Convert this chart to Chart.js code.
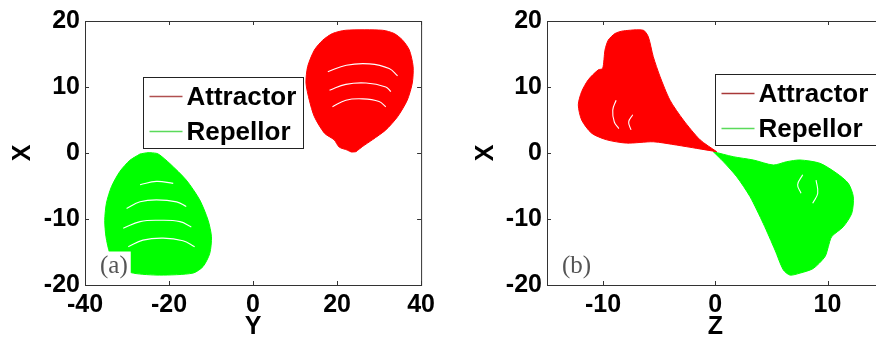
<!DOCTYPE html>
<html>
<head>
<meta charset="utf-8">
<script src="https://cdn.jsdelivr.net/npm/chart.js@4"></script>
<style>
html,body{margin:0;padding:0;background:#fff;overflow:hidden;width:876px;height:339px}
canvas{position:absolute;top:0}
#ca{left:0}
#cb{left:436px}
</style>
</head>
<body>
<canvas id="ca" width="440" height="339"></canvas>
<canvas id="cb" width="460" height="339"></canvas>
<script>
// tick values
const xTicks=[-20,-10,0,10,20];
const yTicks=[-40,-20,0,20,40];
const zTicks=[-10,0,10];

// (a) X against Y: outline of each filled region
const attrY=[24.5,26.1,28.4,31.6,34.4,36.7,37.9,38.1,37.2,35.6,33.6,30.8,22.1,18.9,16.6,14.6,13.0,12.6,13.4,14.6,17.0,19.3,20.5,22.4,23.4];
const attrX=[0.2,1.0,2.0,3.5,5.5,8.0,10.6,13.1,15.6,17.1,18.1,18.6,18.6,18.1,17.1,15.6,13.1,10.6,8.0,5.5,3.0,2.0,0.9,0.45,0.15];
const repY=[-26.9,-25.0,-23.0,-22.2,-19.8,-15.9,-12.7,-10.7,-9.9,-10.3,-11.9,-14.3,-22.2,-28.5,-32.5,-34.1,-35.0,-35.3,-34.9,-33.7,-31.7,-29.3];
const repX=[-0.15,0.05,-0.05,-0.3,-1.6,-4.1,-7.1,-10.2,-12.7,-15.2,-17.2,-18.2,-18.5,-18.2,-17.2,-15.2,-12.7,-10.2,-7.6,-5.1,-2.8,-1.1];
// white gaps (arcs) inside the regions of (a)
const attrGapY=[[17.8,22.2,27.7,32.4,34.4],[18.2,22.1,26.9,31.6,32.8],[18.9,22.1,26.1,30.0,31.6]];
const attrGapX=[[12.3,13.3,13.5,12.8,11.7],[9.5,10.4,10.6,10.0,9.3],[7.0,8.0,8.2,7.8,7.0]];
const repGapY=[[-26.9,-23.0,-19.0],[-30.1,-26.9,-23.0,-18.2,-15.9],[-30.9,-26.9,-22.2,-17.4,-14.7],[-29.7,-26.2,-21.4,-16.7,-13.9]];
const repGapX=[[-4.8,-4.3,-4.6],[-8.4,-7.4,-7.1,-7.4,-8.1],[-11.4,-10.4,-10.2,-10.4,-11.2],[-14.2,-13.2,-12.9,-13.3,-14.2]];

// (b) X against Z
const attrZ=[0.12,-1.36,-2.85,-4.04,-4.93,-5.53,-5.97,-6.42,-8.2,-8.94,-9.54,-9.83,-10.04,-10.43,-11.32,-11.91,-12.21,-11.91,-11.02,-9.68,-7.9,-5.53,-3.44,-1.66];
const attrXb=[0.2,2.0,5.0,8.0,11.6,14.6,17.6,18.6,18.5,18.1,17.1,15.6,12.8,12.6,11.1,9.3,7.3,5.0,3.0,2.0,1.5,1.7,1.2,0.7];
const repZ=[-0.18,1.6,3.39,5.17,6.36,7.55,9.33,10.82,11.85,12.3,12.16,11.41,10.37,10.07,9.78,8.73,7.55,6.66,6.06,5.32,4.28,3.09,1.91,0.71];
const repXb=[0.2,-0.56,-1.06,-1.82,-1.32,-1.06,-1.56,-3.08,-4.59,-6.62,-9.14,-11.17,-12.68,-14.2,-15.7,-17.5,-18.2,-18.5,-17.7,-14.7,-10.7,-6.6,-3.6,-1.3];
const attrGapZ=[[-8.84,-9.14,-9.0,-8.6],[-7.36,-7.72,-7.51]];
const attrGapXb=[[8.0,6.5,4.7,3.7],[5.8,4.7,3.5]];
const repGapZ=[[7.79,7.34,7.64],[8.98,9.13,8.68]];
const repGapXb=[[-3.3,-4.8,-6.1],[-4.1,-6.1,-7.6]];

const RED='#ff0000',GREEN='#00ff00';
const pts=(h,v)=>h.map((a,i)=>({x:a,y:v[i]}));
const closed=(h,v)=>{const p=pts(h,v);p.push(p[0]);return p;};

function region(label,h,v,col,legendColor){
  return {label,legendColor,data:closed(h,v),showLine:true,fill:'shape',
    backgroundColor:col,borderColor:col,borderWidth:1,pointRadius:0,tension:0.25,order:1};
}
function gaps(H,V){
  return H.map((h,i)=>({data:pts(h,V[i]),showLine:true,borderColor:'#fff',borderWidth:1.1,
    pointRadius:0,tension:0.4,fill:false,order:0}));
}

const decor={id:'decor',afterDatasetsDraw(c,_a,o){
  const {ctx,chartArea:a,scales:{x,y}}=c;
  ctx.save();
  // panel tag on white background
  ctx.font='25px "Liberation Serif"';
  const tx=a.left+15,ty=a.bottom-18.5,tw=ctx.measureText(o.tag).width;
  ctx.fillStyle='#fff';ctx.fillRect(tx-3,ty-15,tw+6,a.bottom-ty+15);
  ctx.fillStyle='#555';ctx.textBaseline='middle';ctx.textAlign='left';
  ctx.fillText(o.tag,tx,ty);
  // box with inward ticks
  ctx.strokeStyle='#333';ctx.lineWidth=1;
  ctx.strokeRect(a.left+.5,a.top+.5,a.width,a.height);
  ctx.beginPath();
  x.ticks.forEach(t=>{const p=Math.round(x.getPixelForValue(t.value))+.5;
    ctx.moveTo(p,a.bottom);ctx.lineTo(p,a.bottom-4);ctx.moveTo(p,a.top);ctx.lineTo(p,a.top+4);});
  y.ticks.forEach(t=>{const p=Math.round(y.getPixelForValue(t.value))+.5;
    ctx.moveTo(a.left,p);ctx.lineTo(a.left+4,p);ctx.moveTo(a.right,p);ctx.lineTo(a.right-4,p);});
  ctx.stroke();
  // legend
  const lx=Math.round(a.left+o.legX)+.5,ly=Math.round(a.top+o.legY)+.5;
  ctx.fillStyle='#fff';ctx.fillRect(lx,ly,o.legW,71);
  ctx.strokeStyle='#222';ctx.strokeRect(lx,ly,o.legW,71);
  ctx.font='bold 26px "Liberation Sans"';
  c.data.datasets.filter(d=>d.label).forEach((d,i)=>{
    const ry=ly+19+i*35;
    ctx.strokeStyle=d.legendColor;ctx.lineWidth=1.5;
    ctx.beginPath();ctx.moveTo(lx+6,ry);ctx.lineTo(lx+39,ry);ctx.stroke();
    ctx.fillStyle='#000';ctx.fillText(d.label,lx+43,ry+1);
  });
  ctx.restore();
}};

const tickFont={family:'"Liberation Sans", Arial, sans-serif',size:25,weight:'bold'};

function makeChart(id,datasets,o){
  return new Chart(document.getElementById(id),{
    type:'scatter',
    data:{datasets},
    options:{
      responsive:false,animation:false,devicePixelRatio:1,
      layout:{padding:{left:0,top:21,right:o.padRight,bottom:0}},
      plugins:{legend:{display:false},tooltip:{enabled:false},
        decor:{tag:o.tag,legX:o.legX,legY:o.legY,legW:o.legW}},
      scales:{
        x:{type:'linear',min:o.hMin,max:o.hMax,
          afterBuildTicks:s=>{s.ticks=o.hTicks.map(v=>({value:v}));},
          afterFit:s=>{s.height=54;},
          grid:{display:false,drawTicks:false},border:{display:false},
          ticks:{font:tickFont,color:'#000',padding:5,maxRotation:0},
          title:{display:true,text:o.hTitle,font:tickFont,color:'#000',padding:{top:0,bottom:-3}}},
        y:{type:'linear',min:-20,max:20,
          afterBuildTicks:s=>{s.ticks=xTicks.map(v=>({value:v}));},
          afterFit:s=>{s.width=o.yWidth;},
          grid:{display:false,drawTicks:false},border:{display:false},
          ticks:{font:tickFont,color:'#000',padding:5},
          title:{display:true,text:'X',font:tickFont,color:'#000',padding:{top:o.titlePad,bottom:0}}}
      }
    },
    plugins:[decor]
  });
}

makeChart('ca',[
  region('Attractor',attrY,attrX,RED,'#b05050'),
  region('Repellor',repY,repX,GREEN,'#5ada5a'),
  ...gaps(attrGapY,attrGapX),...gaps(repGapY,repGapX)
],{hMin:-40,hMax:40,hTicks:yTicks,hTitle:'Y',padRight:18,yWidth:85,titlePad:8,
  tag:'(a)',legX:58,legY:56,legW:160});

makeChart('cb',[
  region('Attractor',attrZ,attrXb,RED,'#a83838'),
  region('Repellor',repZ,repXb,GREEN,'#5ada5a'),
  ...gaps(attrGapZ,attrGapXb),...gaps(repGapZ,repGapXb)
],{hMin:-15,hMax:15,hTicks:zTicks,hTitle:'Z',padRight:12.4,yWidth:111,titlePad:35,
  tag:'(b)',legX:168,legY:53,legW:170});
</script>
</body>
</html>
